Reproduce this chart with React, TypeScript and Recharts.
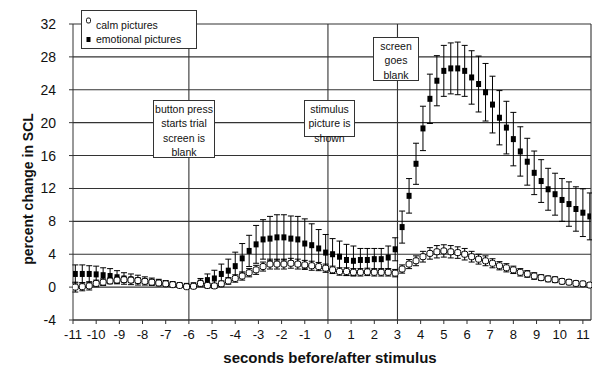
import { ComposedChart, Scatter, ErrorBar, XAxis, YAxis, CartesianGrid, ReferenceLine, Label } from 'recharts';

// seconds relative to stimulus onset (one sample every 0.3 s)
const times = [
  -10.9, -10.6, -10.3, -10.0, -9.7, -9.4, -9.1, -8.8, -8.5, -8.2,
  -7.9, -7.6, -7.3, -7.0, -6.7, -6.4, -6.1, -5.8, -5.5, -5.2,
  -4.9, -4.6, -4.3, -4.0, -3.7, -3.4, -3.1, -2.8, -2.5, -2.2,
  -1.9, -1.6, -1.3, -1.0, -0.7, -0.4, -0.1, 0.2, 0.5, 0.8,
  1.1, 1.4, 1.7, 2.0, 2.3, 2.6, 2.9, 3.2, 3.5, 3.8,
  4.1, 4.4, 4.7, 5.0, 5.3, 5.6, 5.9, 6.2, 6.5, 6.8,
  7.1, 7.4, 7.7, 8.0, 8.3, 8.6, 8.9, 9.2, 9.5, 9.8,
  10.1, 10.4, 10.7, 11.0, 11.3,
];

const emotional = [
  1.6, 1.6, 1.6, 1.55, 1.45, 1.35, 1.2, 1.05, 0.95, 0.85,
  0.75, 0.65, 0.55, 0.45, 0.35, 0.25, 0.15, 0.2, 0.55, 0.85,
  1.05, 1.6, 2.0, 2.55, 3.5, 4.4, 5.2, 5.8, 5.9, 6.05,
  6.05, 5.9, 5.8, 5.3, 5.1, 4.7, 4.2, 4.0, 3.7, 3.3,
  3.2, 3.3, 3.3, 3.4, 3.4, 3.6, 4.6, 7.3, 11.1, 15.0,
  19.3, 22.9, 25.1, 26.3, 26.6, 26.6, 26.3, 25.5, 24.7, 23.7,
  22.2, 20.6, 19.4, 18.0, 16.5, 15.25, 13.9, 12.9, 11.9, 11.3,
  10.6, 10.1, 9.5, 9.05, 8.6,
];

const emotionalErr = [
  1.1, 1.1, 1.0, 1.0, 0.9, 0.9, 0.8, 0.7, 0.65, 0.6,
  0.5, 0.45, 0.4, 0.35, 0.3, 0.25, 0.2, 0.3, 0.5, 0.75,
  1.0, 1.2, 1.4, 1.7, 1.8, 1.9, 2.3, 2.4, 2.7, 2.75,
  2.75, 2.75, 2.8, 3.0, 2.6, 2.3, 2.2, 1.9, 1.9, 1.9,
  1.8, 1.4, 1.4, 1.3, 1.3, 1.4, 1.4, 1.95, 2.1, 2.5,
  2.7, 3.0, 3.05, 3.1, 3.1, 3.2, 3.1, 3.25, 3.4, 3.5,
  3.45, 3.3, 3.2, 3.25, 3.0, 2.85, 2.65, 2.6, 2.55, 2.55,
  2.6, 2.7, 2.7, 2.9, 2.85,
];

const calm = [
  0.0, 0.05, 0.15, 0.45, 0.6, 0.75, 0.85, 0.9, 0.85, 0.8,
  0.7, 0.6, 0.5, 0.4, 0.3, 0.2, 0.05, 0.1, 0.45, 0.2,
  0.15, 0.4, 0.75, 1.05, 1.35, 1.75, 2.1, 2.5, 2.8, 2.8,
  2.8, 2.9, 2.8, 2.7, 2.6, 2.5, 2.3, 2.1, 1.9, 1.9,
  1.8, 1.8, 1.85, 1.8, 1.8, 1.8, 1.7, 2.2, 2.8, 3.2,
  3.7, 4.1, 4.3, 4.4, 4.3, 4.2, 4.0, 3.7, 3.4, 3.2,
  2.9, 2.6, 2.35, 2.1, 1.8, 1.6, 1.35, 1.15, 1.0, 0.9,
  0.7, 0.6, 0.45, 0.4, 0.25,
];

const calmErr = [
  0.6, 0.5, 0.5, 0.4, 0.4, 0.35, 0.35, 0.3, 0.3, 0.3,
  0.25, 0.25, 0.2, 0.2, 0.2, 0.15, 0.15, 0.2, 0.3, 0.3,
  0.3, 0.35, 0.4, 0.45, 0.5, 0.5, 0.55, 0.55, 0.6, 0.6,
  0.6, 0.6, 0.6, 0.55, 0.55, 0.5, 0.5, 0.45, 0.45, 0.45,
  0.45, 0.45, 0.45, 0.45, 0.45, 0.45, 0.45, 0.5, 0.55, 0.6,
  0.65, 0.7, 0.75, 0.75, 0.75, 0.7, 0.7, 0.65, 0.6, 0.6,
  0.55, 0.5, 0.5, 0.45, 0.45, 0.4, 0.4, 0.35, 0.35, 0.35,
  0.3, 0.3, 0.3, 0.3, 0.3,
];

const xTicks = [-11, -10, -9, -8, -7, -6, -5, -4, -3, -2, -1, 0, 1, 2, 3, 4, 5, 6, 7, 8, 9, 10, 11];
const yTicks = [-4, 0, 4, 8, 12, 16, 20, 24, 28, 32];
const eventLines = [-6, 0, 3];

const rows = times.map((t, i) => ({
  t,
  emo: emotional[i],
  emoErr: emotionalErr[i],
  calm: calm[i],
  calmErr: calmErr[i],
}));

const FONT = '"Liberation Sans", Arial, sans-serif';
const LINE = '#333';

const EmoMark = (props: any) => (
  <rect x={props.cx - 2.5} y={props.cy - 3} width={5} height={6} fill="#000" />
);

const CalmMark = (props: any) => (
  <rect x={props.cx - 3} y={props.cy - 3} width={6} height={6} rx={2} fill="#fff" stroke="#000" strokeWidth={1} />
);

const boxStyle: any = {
  position: 'absolute',
  zIndex: 5,
  boxSizing: 'border-box',
  borderWidth: 1,
  borderStyle: 'solid',
  borderColor: LINE,
  backgroundColor: '#ffffff',
  fontFamily: FONT,
  fontSize: 10.5,
  lineHeight: '14.3px',
  textAlign: 'center',
  whiteSpace: 'nowrap',
  color: '#111',
};

export default function App() {
  return (
    <div style={{ position: 'absolute', left: 0, top: 0, width: 592, height: 371, background: '#fff' }}>
      <ComposedChart width={592} height={371} data={rows} margin={{ top: 24, right: 1, bottom: 0, left: 0 }}>
        <CartesianGrid vertical={false} stroke={LINE} strokeWidth={1.1} />
        <XAxis
          type="number"
          dataKey="t"
          domain={[-11, 11.35]}
          ticks={xTicks}
          interval={0}
          allowDataOverflow
          height={51}
          tickSize={4}
          tickMargin={6}
          stroke={LINE}
          tick={{ fill: '#111', fontSize: 13, fontFamily: FONT }}
        >
          <Label
            content={() => (
              <text x={330} y={357} textAnchor="middle" dominantBaseline="central" fontFamily={FONT} fontSize={15} fontWeight="bold" fill="#111">
                seconds before/after stimulus
              </text>
            )}
          />
        </XAxis>
        <YAxis
          type="number"
          domain={[-4, 32]}
          ticks={yTicks}
          interval={0}
          width={73}
          tickSize={4}
          tickMargin={13}
          stroke={LINE}
          tick={{ fill: '#111', fontSize: 14, fontFamily: FONT }}
        >
          <Label
            content={() => (
              <text x={28} y={189} transform="rotate(-90, 28, 189)" textAnchor="middle" dominantBaseline="central" fontFamily={FONT} fontSize={14} fontWeight="bold" fill="#111">
                percent change in SCL
              </text>
            )}
          />
        </YAxis>
        {eventLines.map((x) => (
          <ReferenceLine key={x} x={x} stroke={LINE} strokeWidth={1.1} />
        ))}
        <ReferenceLine x={11.35} stroke={LINE} strokeWidth={1.1} ifOverflow="visible" />
        <Scatter data={rows} dataKey="emo" shape={EmoMark} isAnimationActive={false}>
          <ErrorBar dataKey="emoErr" direction="y" width={3} stroke="#000" strokeWidth={1} isAnimationActive={false} />
        </Scatter>
        <Scatter data={rows} dataKey="calm" shape={CalmMark} isAnimationActive={false}>
          <ErrorBar dataKey="calmErr" direction="y" width={3} stroke="#000" strokeWidth={1} isAnimationActive={false} />
        </Scatter>
      </ComposedChart>

      {/* legend */}
      <div style={{ ...boxStyle, left: 81, top: 10, width: 116, height: 39, textAlign: 'left' }}>
        <svg width={10} height={36} style={{ position: 'absolute', left: 2, top: 2 }}>
          <rect x={2.5} y={5} width={4} height={5} rx={1.5} fill="#fff" stroke="#000" strokeWidth={0.9} />
          <rect x={2.5} y={24} width={4} height={5} fill="#000" />
        </svg>
        <div style={{ position: 'absolute', left: 14, top: 7 }}>calm pictures</div>
        <div style={{ position: 'absolute', left: 14, top: 21 }}>emotional pictures</div>
      </div>

      {/* event annotations */}
      <div style={{ ...boxStyle, left: 153, top: 100, width: 62, height: 58, paddingTop: 1 }}>
        button press<br />starts trial<br />screen is<br />blank
      </div>
      <div style={{ ...boxStyle, left: 304, top: 100, width: 51, height: 37, paddingTop: 1 }}>
        stimulus<br />picture is<br />shown
      </div>
      <div style={{ ...boxStyle, left: 373, top: 37, width: 46, height: 44, paddingTop: 1 }}>
        screen<br />goes<br />blank
      </div>
    </div>
  );
}
